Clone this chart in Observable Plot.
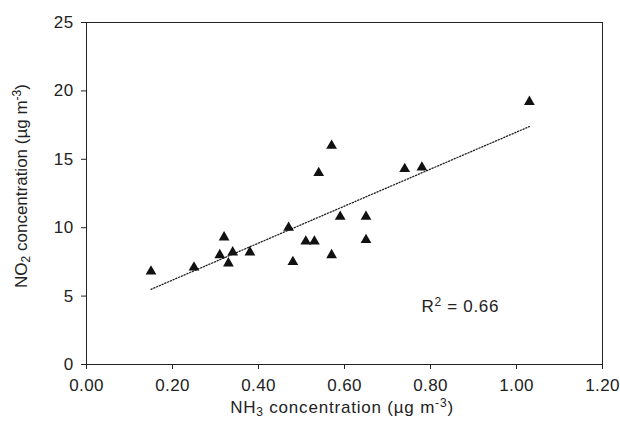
<!DOCTYPE html>
<html>
<head>
<meta charset="utf-8">
<script src="https://cdn.jsdelivr.net/npm/d3@7"></script>
<script src="https://cdn.jsdelivr.net/npm/@observablehq/plot@0.6"></script>
<style>
  html, body { margin: 0; padding: 0; background: #fff; }
  svg text { font-family: "Liberation Sans", Arial, sans-serif; }
</style>
</head>
<body>
<div id="chart"></div>
<script>
const nh3 = [0.15, 0.25, 0.31, 0.32, 0.33, 0.34, 0.38, 0.47, 0.48, 0.51, 0.53, 0.54, 0.57, 0.57, 0.59, 0.65, 0.65, 0.74, 0.78, 1.03];
const no2 = [6.8, 7.1, 8.0, 9.3, 7.4, 8.2, 8.2, 10.0, 7.5, 9.0, 9.0, 14.0, 16.0, 8.0, 10.8, 10.8, 9.1, 14.3, 14.4, 19.2];
const xTicks = [0, 0.2, 0.4, 0.6, 0.8, 1.0, 1.2];
const yTicks = [0, 5, 10, 15, 20, 25];
const r2Label = "0.66";

const data = nh3.map((x, i) => ({x, y: no2[i]}));

const plot = Plot.plot({
  width: 620,
  height: 427,
  marginLeft: 86,
  marginRight: 18,
  marginTop: 22,
  marginBottom: 63,
  style: {fontFamily: "'Liberation Sans', Arial, sans-serif", fontSize: "17px", color: "#222", background: "#fff"},
  x: {domain: [0, 1.2], ticks: xTicks, tickFormat: d3.format(".2f"), label: null, tickSize: 5, tickPadding: 9},
  y: {domain: [0, 25], ticks: yTicks, label: null, tickSize: 5, tickPadding: 8},
  marks: [
    Plot.frame({stroke: "#222", strokeWidth: 1}),
    Plot.linearRegressionY(data, {x: "x", y: "y", ci: 0, stroke: "#222", strokeWidth: 1.3, strokeDasharray: "1.2,1.8"}),
    Plot.dot(data, {x: "x", y: "y", symbol: "triangle", r: 4, fill: "#111", stroke: "none"})
  ]
});

document.getElementById("chart").appendChild(plot);

const svg = d3.select(plot);
svg.selectAll("[aria-label='x-axis tick label'] text, [aria-label='y-axis tick label'] text")
  .attr("letter-spacing", 0.4);
const xs = plot.scale("x"), ys = plot.scale("y");

// X axis title
const xt = svg.append("text")
  .attr("x", 342).attr("y", 413)
  .attr("text-anchor", "middle")
  .attr("letter-spacing", 0.8)
  .attr("font-size", 17).attr("fill", "#222");
xt.append("tspan").text("NH");
xt.append("tspan").attr("font-size", 12).attr("dy", 3).text("3");
xt.append("tspan").attr("dy", -3).text(" concentration (µg m");
xt.append("tspan").attr("font-size", 12).attr("dy", -6).text("-3");
xt.append("tspan").attr("dy", 6).text(")");

// Y axis title
const yt = svg.append("text")
  .attr("transform", "translate(27,186) rotate(-90)")
  .attr("text-anchor", "middle")
  .attr("font-size", 17).attr("fill", "#222");
yt.append("tspan").text("NO");
yt.append("tspan").attr("font-size", 12).attr("dy", 3).text("2");
yt.append("tspan").attr("dy", -3).text(" concentration (µg m");
yt.append("tspan").attr("font-size", 12).attr("dy", -6).text("-3");
yt.append("tspan").attr("dy", 6).text(")");

// R² annotation
const rt = svg.append("text")
  .attr("x", xs.apply(0.78)).attr("y", ys.apply(3.83))
  .attr("text-anchor", "start")
  .attr("letter-spacing", 0.7)
  .attr("font-size", 17).attr("fill", "#222");
rt.append("tspan").text("R");
rt.append("tspan").attr("font-size", 12).attr("dy", -6).text("2");
rt.append("tspan").attr("dy", 6).text(" = " + r2Label);
</script>
</body>
</html>
